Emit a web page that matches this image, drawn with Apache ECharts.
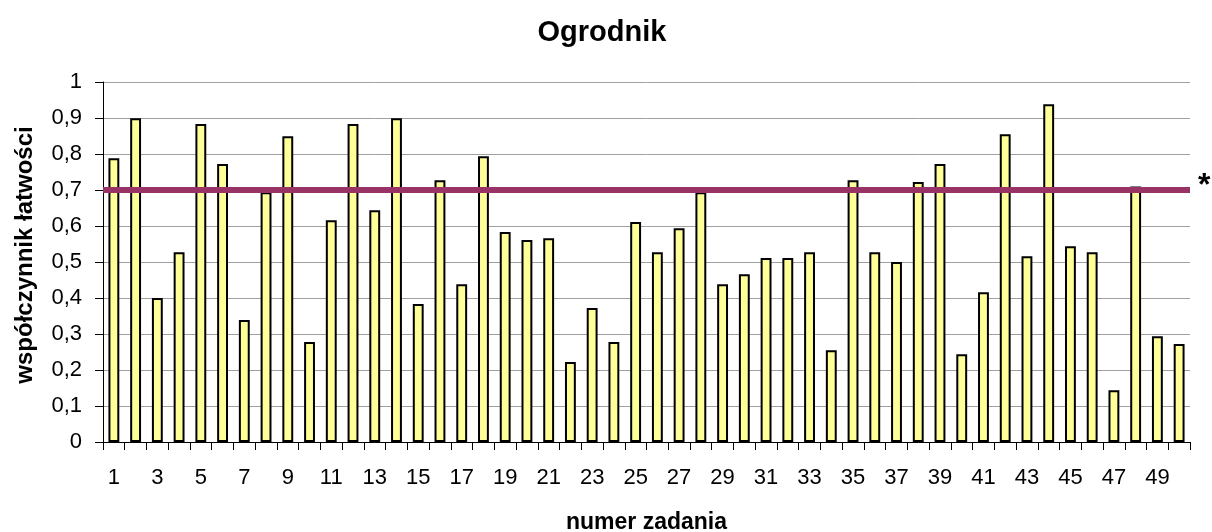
<!DOCTYPE html>
<html>
<head>
<meta charset="utf-8">
<script src="https://cdn.jsdelivr.net/npm/echarts@6/dist/echarts.min.js"></script>
<style>
  html, body { margin: 0; padding: 0; background: #fff; }
  #chart { width: 1212px; height: 532px; }
</style>
</head>
<body>
<div id="chart"></div>
<script>
// numery zadań 1..50
const zadania = ['1','2','3','4','5','6','7','8','9','10','11','12','13','14','15','16','17','18','19','20',
  '21','22','23','24','25','26','27','28','29','30','31','32','33','34','35','36','37','38','39','40',
  '41','42','43','44','45','46','47','48','49','50'];

// współczynnik łatwości dla każdego zadania
const latwosc = [0.788, 0.899, 0.400, 0.527, 0.883, 0.772, 0.339, 0.694, 0.849, 0.278,
  0.616, 0.883, 0.644, 0.899, 0.383, 0.727, 0.438, 0.794, 0.583, 0.561,
  0.566, 0.222, 0.372, 0.278, 0.611, 0.527, 0.594, 0.694, 0.438, 0.466,
  0.511, 0.511, 0.527, 0.255, 0.727, 0.527, 0.500, 0.722, 0.772, 0.244,
  0.416, 0.855, 0.516, 0.938, 0.544, 0.527, 0.144, 0.710, 0.294, 0.272];

const prog = 0.7;

const chart = echarts.init(document.getElementById('chart'));
const font = 'Liberation Sans, Arial, sans-serif';

chart.setOption({
    animation: false,
    title: {
        text: 'Ogrodnik',
        left: 597,
        textAlign: 'center',
        top: 13,
        textStyle: { fontFamily: font, fontSize: 29, fontWeight: 'bold', color: '#000' }
    },
    grid: { left: 103, right: 22, top: 82, bottom: 90, outerBoundsMode: 'none', containLabel: false },
    xAxis: {
        type: 'category',
        data: zadania,
        name: 'numer zadania',
        nameLocation: 'middle',
        nameGap: 69,
        nameTextStyle: { fontFamily: font, fontSize: 23, fontWeight: 'bold', color: '#000' },
        axisLine: { show: true, lineStyle: { color: '#000', width: 1 } },
        axisTick: { show: true, interval: 0, alignWithLabel: false, length: 8, lineStyle: { color: '#000', width: 1 } },
        axisLabel: { interval: 1, margin: 25, fontFamily: font, fontSize: 22, color: '#000' }
    },
    yAxis: {
        type: 'value',
        min: 0,
        max: 1,
        interval: 0.1,
        name: 'współczynnik łatwości',
        nameLocation: 'middle',
        nameRotate: 90,
        nameGap: 66,
        nameTextStyle: {
            fontFamily: font, fontSize: 24, fontWeight: 'bold', color: '#000',
            padding: [0, 0, 0, 14]
        },
        axisLine: { show: true, lineStyle: { color: '#000', width: 1 } },
        axisTick: { show: true, length: 8, lineStyle: { color: '#000', width: 1 } },
        axisLabel: {
            margin: 21,
            fontFamily: font, fontSize: 22, color: '#000',
            formatter: v => String(Math.round(v * 10) / 10).replace('.', ',')
        },
        splitLine: { lineStyle: { color: '#a0a0a0', width: 1 } }
    },
    series: [{
        type: 'bar',
        data: latwosc,
        barWidth: '50%',
        itemStyle: { color: '#ffff99', borderColor: '#000', borderWidth: 2 },
        markLine: {
            silent: true,
            symbol: 'none',
            lineStyle: { color: '#993366', width: 6, type: 'solid' },
            label: {
                show: true,
                position: 'end',
                formatter: '*',
                distance: 8,
                fontFamily: font,
                fontSize: 32,
                fontWeight: 'bold',
                color: '#000',
                offset: [0, -4]
            },
            data: [{ yAxis: prog }]
        }
    }]
});
</script>
</body>
</html>
